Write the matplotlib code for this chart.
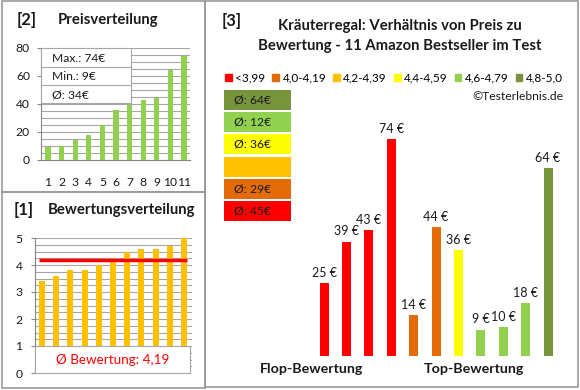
import matplotlib
matplotlib.use('Agg')
import matplotlib.pyplot as plt
from matplotlib.patches import Rectangle
from matplotlib.lines import Line2D
import numpy as np

plt.rcParams['font.family'] = ['Lato', 'DejaVu Sans']

# ---------------- data ----------------
rank_labels = ['1', '2', '3', '4', '5', '6', '7', '8', '9', '10', '11']
prices_sorted = [9, 10, 14, 18, 25, 36, 39, 43, 44, 64, 74]
ratings_sorted = [3.4, 3.6, 3.8, 3.8, 4.0, 4.1, 4.5, 4.6, 4.6, 4.7, 5.0]

# products ordered from flop to top rating
ratio_prices = [25, 39, 43, 74, 14, 44, 36, 9, 10, 18, 64]
ratio_class = [0, 0, 0, 0, 1, 1, 3, 4, 4, 4, 5]
class_labels = ['<3,99', '4,0-4,19', '4,2-4,39', '4,4-4,59', '4,6-4,79', '4,8-5,0']
class_colors = ['#FF0000', '#E36C09', '#FFC000', '#FFFF00', '#92D050', '#77933C']

W, H = 580, 390
fig = plt.figure(figsize=(W / 100, H / 100), dpi=100)
fig.patch.set_facecolor('white')

GRID = '#A6A6A6'
AXC = '#868686'
BORDER = '#9A9A9A'
TXT = '#1A1A1A'
TITLE_FS = 10.75


def ax_px(x0, y0, x1, y1):
    return fig.add_axes([x0 / W, 1 - y1 / H, (x1 - x0) / W, (y1 - y0) / H])


def rect_px(x0, y0, x1, y1, **kw):
    r = Rectangle((x0 / W, 1 - y1 / H), (x1 - x0) / W, (y1 - y0) / H,
                  transform=fig.transFigure, **kw)
    fig.patches.append(r)
    return r


def text_px(x, y, s, **kw):
    return fig.text(x / W, 1 - y / H, s, **kw)


# panel borders
rect_px(1.5, 1, 205, 192, fill=False, edgecolor=BORDER, lw=1.2, zorder=0.5)
rect_px(1.5, 192, 205, 388, fill=False, edgecolor=BORDER, lw=1.2, zorder=0.5)
rect_px(205, 1, 578, 387, fill=False, edgecolor=BORDER, lw=1.2, zorder=0.5)

# ---------------- [2] Preisverteilung ----------------
ax1 = ax_px(41, 48, 190, 160)
x = np.arange(1, len(prices_sorted) + 1)
ax1.bar(x, prices_sorted, width=0.37, color='#92D050', zorder=3)
ax1.set_xlim(0.485, 11.44)
ax1.set_ylim(0, 80)
ax1.set_yticks(range(0, 81, 20))
ax1.set_yticks(range(0, 81, 5), minor=True)
ax1.grid(axis='y', which='both', color=GRID, lw=0.8, zorder=0)
ax1.set_xticks(x, rank_labels)
for s in ['top', 'right']:
    ax1.spines[s].set_visible(False)
for s in ['left', 'bottom']:
    ax1.spines[s].set_color(AXC)
ax1.tick_params(axis='x', length=0, pad=12, labelsize=8.75, labelcolor=TXT)
ax1.tick_params(axis='y', which='major', length=3, color=AXC, pad=5, labelsize=8.75, labelcolor=TXT)
ax1.tick_params(axis='y', which='minor', length=0)

text_px(17, 20, '[2]', fontsize=12, fontweight='bold', va='center', color=TXT)
text_px(58, 20, 'Preisverteilung', fontsize=TITLE_FS, fontweight='bold', va='center', color=TXT)

# stats box
rect_px(41, 48, 131, 103, facecolor='white', edgecolor=GRID, lw=0.8, zorder=2)
for yy in (67, 85):
    fig.lines.append(Line2D([41 / W, 131 / W], [1 - yy / H, 1 - yy / H],
                            transform=fig.transFigure, color=GRID, lw=0.8, zorder=2.5))
stats = [f'Max.: {max(prices_sorted)}€', f'Min.: {min(prices_sorted)}€',
         f'Ø: {round(np.mean(prices_sorted))}€']
for yy, s in zip((59, 77, 95), stats):
    text_px(52, yy, s, fontsize=8.75, va='center', color=TXT)

# ---------------- [1] Bewertungsverteilung ----------------
ax2 = ax_px(35, 238, 192, 373)
bw = 0.42
ax2.bar(x, ratings_sorted, width=bw, color='#FFC000', zorder=3)
ax2.set_xlim(0.507, 11.56)
ax2.set_ylim(0, 5)
ax2.set_yticks(range(0, 6))
ax2.set_yticks(np.arange(0, 5.01, 0.25), minor=True)
ax2.grid(axis='y', which='both', color=GRID, lw=0.8, zorder=0)
ax2.set_xticks([])
for s in ['top', 'right', 'bottom']:
    ax2.spines[s].set_visible(False)
ax2.spines['left'].set_color(AXC)
ax2.tick_params(axis='y', which='major', length=3, color=AXC, pad=6, labelsize=8.75, labelcolor=TXT)
ax2.tick_params(axis='y', which='minor', length=0)
avg_rating = np.mean(ratings_sorted)
ax2.hlines(avg_rating, x[0] - bw / 2, x[-1] + bw / 2, color='#FF0000', lw=2.5, zorder=4)
xl = ax2.get_xlim()
ax2.add_patch(Rectangle((xl[0], 0), (xl[1] - xl[0]) * 0.985, 1, facecolor='white',
                        edgecolor=GRID, lw=0.8, zorder=5, clip_on=False))
ax2.text(xl[0] + (xl[1] - xl[0]) * 0.985 / 2, 0.5,
         'Ø Bewertung: ' + f'{avg_rating:.2f}'.replace('.', ','),
         color='#FF0000', fontsize=9.75, ha='center', va='center', zorder=6)

text_px(14, 210, '[1]', fontsize=12, fontweight='bold', va='center', color=TXT)
text_px(48, 210, 'Bewertungsverteilung', fontsize=TITLE_FS, fontweight='bold', va='center', color=TXT)

# ---------------- [3] Verhältnis ----------------
text_px(222, 21, '[3]', fontsize=12, fontweight='bold', va='center', color=TXT)
text_px(400, 26, 'Kräuterregal: Verhältnis von Preis zu', fontsize=TITLE_FS,
        fontweight='bold', ha='center', va='center', color=TXT)
text_px(400, 46, 'Bewertung - 11 Amazon Bestseller im Test', fontsize=TITLE_FS,
        fontweight='bold', ha='center', va='center', color=TXT)

handles = [Rectangle((0, 0), 1, 1, color=c) for c in class_colors]
fig.legend(handles, class_labels, loc='center', bbox_to_anchor=(394 / W, 1 - 78 / H),
           ncol=6, frameon=False, fontsize=8.5, handlelength=0.55, handleheight=0.55,
           handletextpad=0.3, columnspacing=0.6, borderpad=0, borderaxespad=0)

text_px(563, 97, '©Testerlebnis.de', fontsize=8.75, ha='right', va='center', color=TXT)

ax3 = ax_px(213, 100, 570, 356)
xr = np.arange(len(ratio_prices))
ax3.bar(xr, ratio_prices, width=0.4, color=[class_colors[c] for c in ratio_class])
ax3.set_xlim(-4.96, 10.98)
ax3.set_ylim(0, 87.3)
ax3.axis('off')
for xi, v in zip(xr, ratio_prices):
    ax3.annotate(f'{v} €', (xi, v), xytext=(0, 3), textcoords='offset points',
                 ha='center', va='bottom', fontsize=9, color=TXT)

text_px(312, 369, 'Flop-Bewertung', fontsize=10.25, fontweight='bold', ha='center', va='center', color=TXT)
text_px(474, 369, 'Top-Bewertung', fontsize=10.25, fontweight='bold', ha='center', va='center', color=TXT)

# category average boxes (top: best class)
for i, cls in enumerate(range(len(class_labels) - 1, -1, -1)):
    y0 = 90 + i * 22.2
    rect_px(224, y0, 291, y0 + 20, facecolor=class_colors[cls], edgecolor='none', zorder=1)
    vals = [p for p, c in zip(ratio_prices, ratio_class) if c == cls]
    if vals:
        text_px(234, y0 + 10, f'Ø: {round(np.mean(vals))}€', fontsize=8.75, va='center', color=TXT)

fig.savefig('out.png', dpi=100)
